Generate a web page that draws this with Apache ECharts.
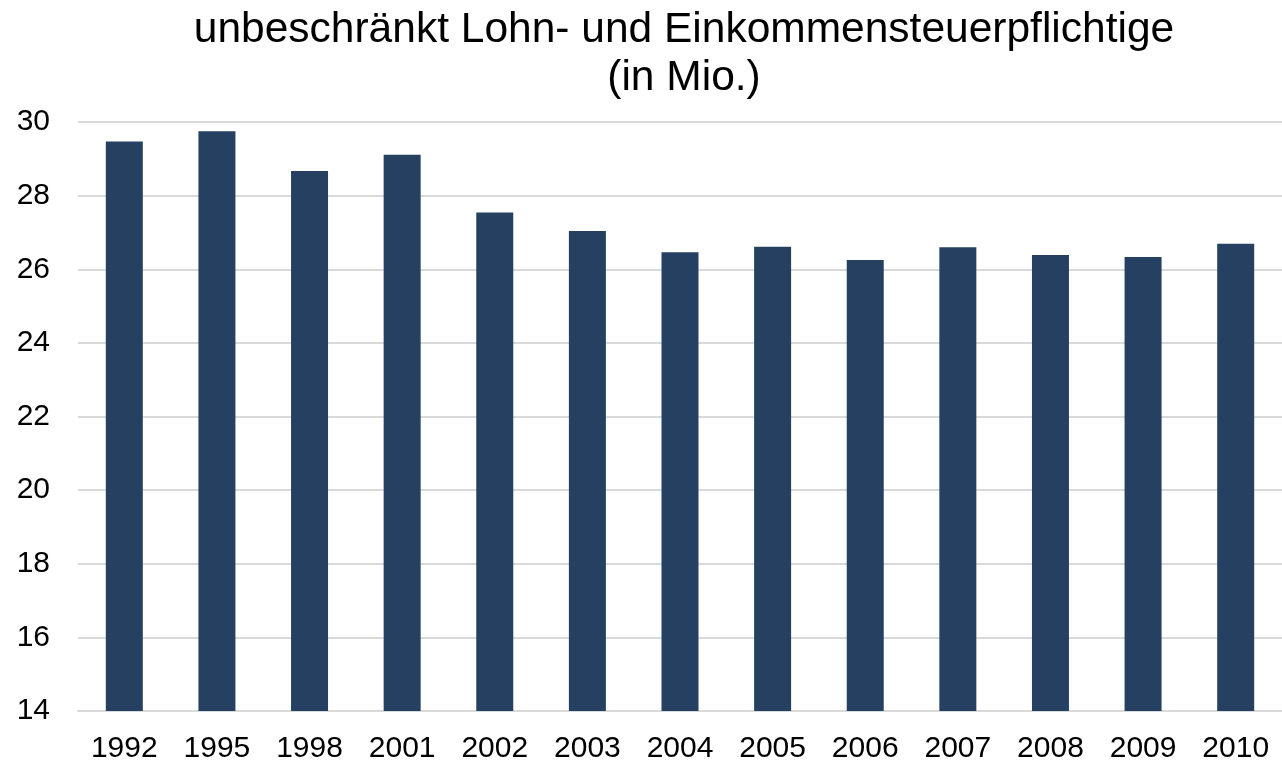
<!DOCTYPE html>
<html>
<head>
    <meta charset='utf-8'>
    <script src="https://cdn.jsdelivr.net/npm/echarts@6/dist/echarts.min.js"></script>
</head>
<body>
<style>
    html, body, #main {
        width: 100%;
        height: 100%;
        margin: 0;
        padding: 0;
        background: #fff;
    }
</style>
<div id="main"></div>
<script>
    var years = ['1992', '1995', '1998', '2001', '2002', '2003', '2004',
        '2005', '2006', '2007', '2008', '2009', '2010'];
    var taxpayers = [29.47, 29.75, 28.67, 29.11, 27.54, 27.04, 26.46,
        26.61, 26.25, 26.6, 26.39, 26.33, 26.69];

    var chart = echarts.init(document.getElementById('main'));

    chart.setOption({
        animation: false,
        title: {
            text: 'unbeschränkt Lohn- und Einkommensteuerpflichtige\n(in Mio.)',
            left: 679,
            textAlign: 'center',
            top: 1,
            textStyle: {
                fontFamily: 'Liberation Sans',
                fontSize: 42.5,
                fontWeight: 'normal',
                color: '#000',
                lineHeight: 48
            }
        },
        grid: {
            left: 78,
            right: -6,
            top: 122,
            bottom: 53
        },
        xAxis: {
            type: 'category',
            data: years,
            axisTick: { show: false },
            axisLine: { lineStyle: { color: '#d9d9d9', width: 2 } },
            axisLabel: {
                margin: 23,
                fontFamily: 'Liberation Sans',
                fontSize: 30,
                color: '#000'
            }
        },
        yAxis: {
            type: 'value',
            min: 14,
            max: 30,
            interval: 2,
            axisLine: { show: false },
            axisTick: { show: false },
            splitLine: { lineStyle: { color: '#d9d9d9', width: 2 } },
            axisLabel: {
                margin: 28,
                fontFamily: 'Liberation Sans',
                fontSize: 30,
                color: '#000'
            }
        },
        series: [{
            type: 'bar',
            data: taxpayers,
            barWidth: 37,
            itemStyle: { color: '#264061' }
        }]
    });
</script>
</body>
</html>
